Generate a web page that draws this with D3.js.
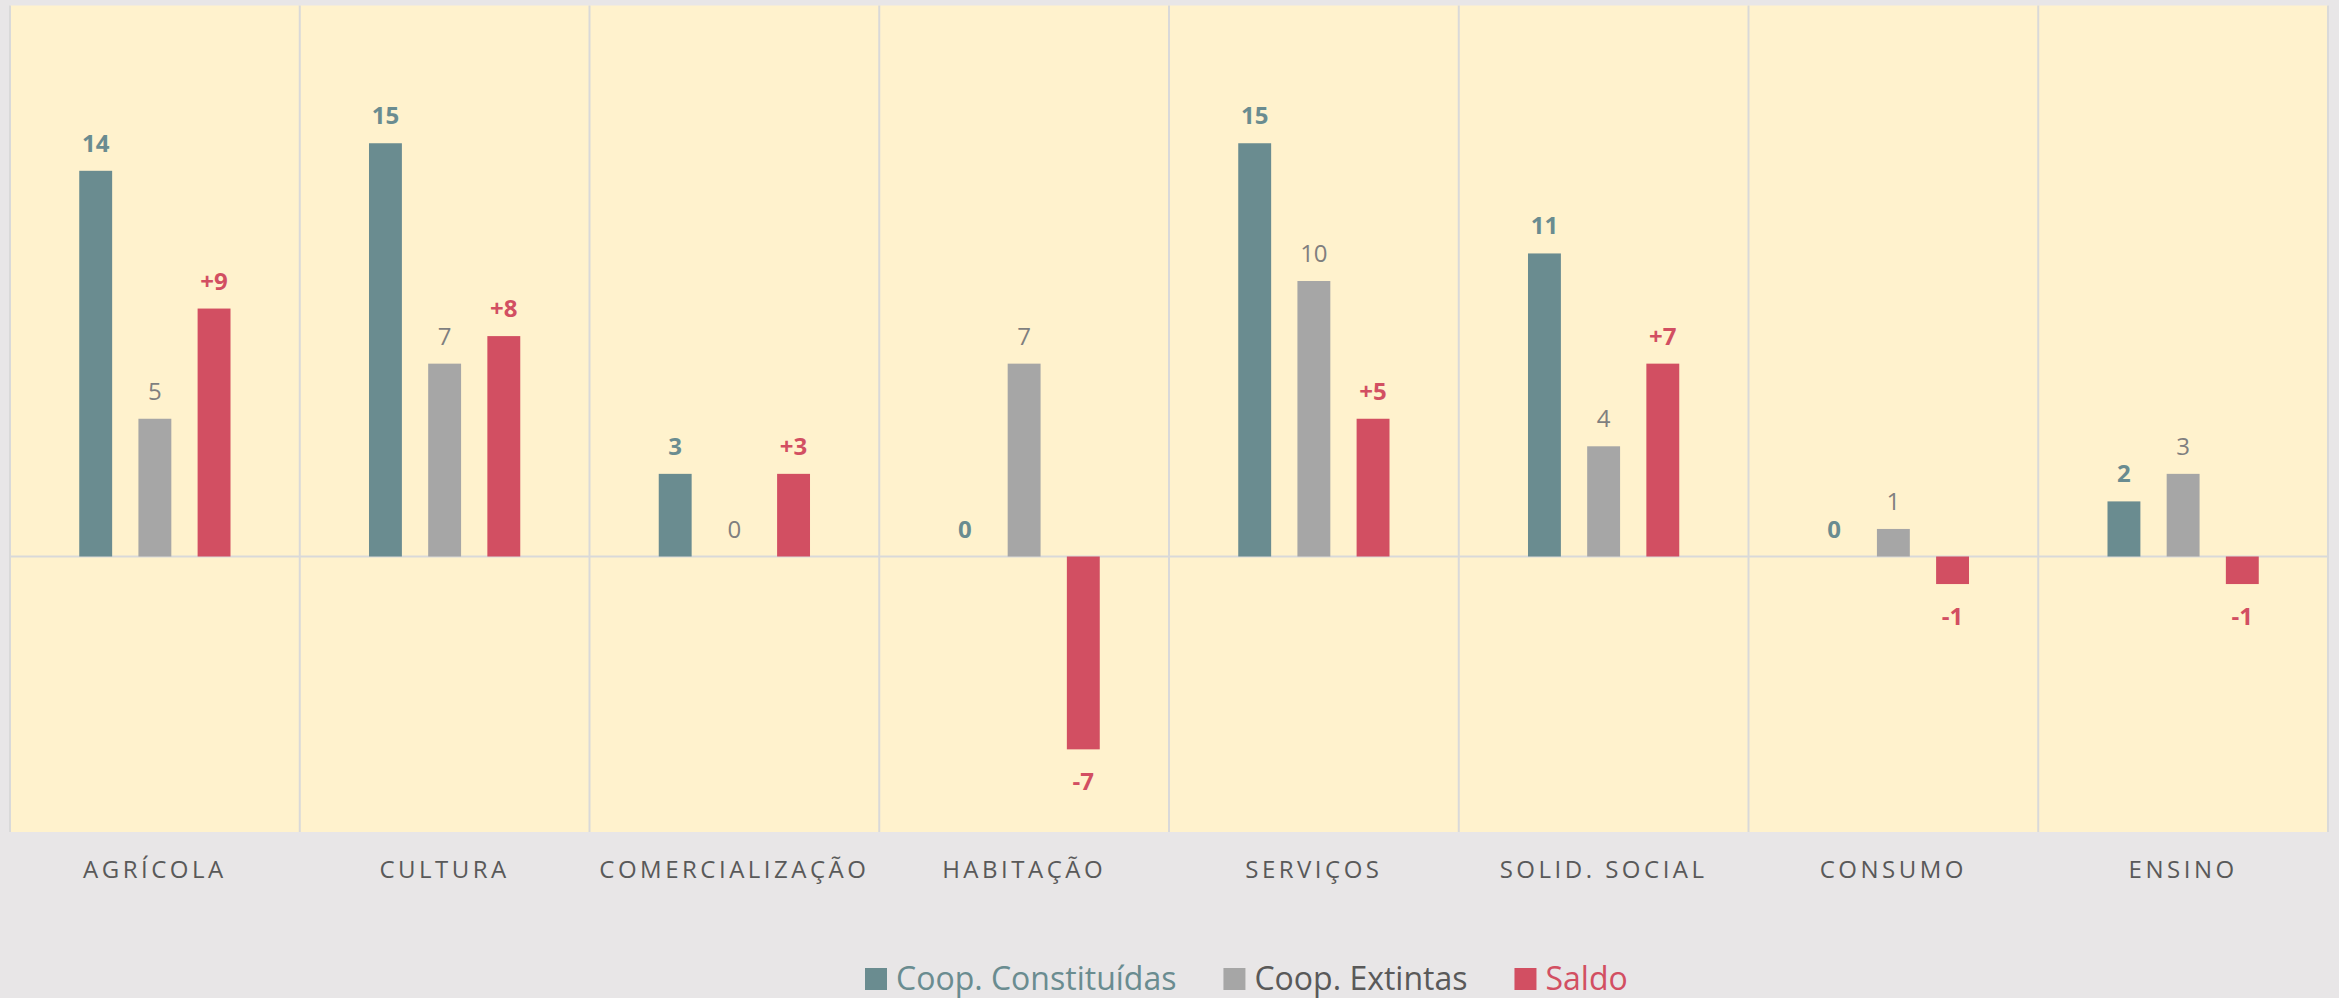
<!DOCTYPE html>
<html>
<head>
<meta charset="UTF-8">
<title>Cooperativas por ramo</title>
<style>
    html, body { margin: 0; padding: 0; background: #e8e6e7; }
    svg { display: block; }
    text { font-family: "Open Sans", "Noto Sans", sans-serif; }
</style>
<script src="https://cdnjs.cloudflare.com/ajax/libs/d3/7.8.5/d3.min.js"></script>
</head>
<body>
<svg id="chart" width="2339" height="998"></svg>
<script>
// dados
var categorias = ["AGRÍCOLA", "CULTURA", "COMERCIALIZAÇÃO", "HABITAÇÃO", "SERVIÇOS", "SOLID. SOCIAL", "CONSUMO", "ENSINO"];
var constituidas = [14, 15, 3, 0, 15, 11, 0, 2];
var extintas = [5, 7, 0, 7, 10, 4, 1, 3];
var saldo = [9, 8, 3, -7, 5, 7, -1, -1];
var series = ["Coop. Constituídas", "Coop. Extintas", "Saldo"];

var cores = { "Coop. Constituídas": "#6a8c90", "Coop. Extintas": "#a6a6a6", "Saldo": "#d24f62" };
var coresTexto = { "Coop. Constituídas": "#6a8c90", "Coop. Extintas": "#7f7f7f", "Saldo": "#d24f62" };
var coresLegenda = { "Coop. Constituídas": "#6a8c90", "Coop. Extintas": "#595959", "Saldo": "#d24f62" };

var valores = { "Coop. Constituídas": constituidas, "Coop. Extintas": extintas, "Saldo": saldo };

var svg = d3.select("#chart");
var plot = { left: 10, right: 2328, top: 5.5, bottom: 832 };

var x = d3.scaleBand().domain(categorias).range([plot.left, plot.right]).padding(0);
var xs = d3.scaleBand().domain(series).range([0, x.bandwidth()])
    .paddingInner(0.444).paddingOuter(1.17);
var y = d3.scaleLinear().domain([-10, 20]).range([plot.bottom, plot.top]);

// fundo da área do gráfico
svg.append("rect")
    .attr("x", plot.left).attr("y", plot.top)
    .attr("width", plot.right - plot.left).attr("height", plot.bottom - plot.top)
    .attr("fill", "#fff2cd");

// linhas verticais entre categorias
var divisores = d3.range(categorias.length + 1).map(function (i) {
    return i < categorias.length ? x(categorias[i]) : plot.right;
});
svg.append("g").selectAll("line")
    .data(divisores)
    .enter().append("line")
    .attr("x1", function (d) { return d; })
    .attr("x2", function (d) { return d; })
    .attr("y1", plot.top).attr("y2", plot.bottom)
    .attr("stroke", "#d9d9d9").attr("stroke-width", 2);

// linha do zero
svg.append("line")
    .attr("x1", plot.left).attr("x2", plot.right)
    .attr("y1", y(0)).attr("y2", y(0))
    .attr("stroke", "#d9d9d9").attr("stroke-width", 2);

var dados = [];
categorias.forEach(function (c, i) {
    series.forEach(function (s) {
        dados.push({ cat: c, serie: s, v: valores[s][i] });
    });
});

svg.append("g").selectAll("rect")
    .data(dados.filter(function (d) { return d.v !== 0; }))
    .enter().append("rect")
    .attr("x", function (d) { return x(d.cat) + xs(d.serie); })
    .attr("width", xs.bandwidth())
    .attr("y", function (d) { return y(Math.max(0, d.v)); })
    .attr("height", function (d) { return Math.abs(y(d.v) - y(0)); })
    .attr("fill", function (d) { return cores[d.serie]; });

// rótulos de dados
function formato(d) {
    if (d.serie === "Saldo" && d.v > 0) return "+" + d.v;
    return String(d.v);
}
svg.append("g").selectAll("text")
    .data(dados)
    .enter().append("text")
    .attr("x", function (d) { return x(d.cat) + xs(d.serie) + xs.bandwidth() / 2; })
    .attr("y", function (d) { return d.v < 0 ? y(d.v) + 41 : y(d.v) - 19; })
    .attr("text-anchor", "middle")
    .attr("font-size", 24)
    .attr("font-weight", function (d) { return d.serie === "Coop. Extintas" ? 400 : 700; })
    .attr("fill", function (d) { return coresTexto[d.serie]; })
    .text(formato);

// rótulos do eixo
svg.append("g").selectAll("text")
    .data(categorias)
    .enter().append("text")
    .attr("x", function (d) { return x(d) + x.bandwidth() / 2; })
    .attr("y", 878)
    .attr("text-anchor", "middle")
    .attr("font-size", 24)
    .attr("letter-spacing", 3.5)
    .attr("fill", "#595959")
    .text(function (d) { return d; });

// legenda
var leg = svg.append("g");
var lx = 865;
series.forEach(function (s) {
    leg.append("rect")
        .attr("x", lx).attr("y", 968).attr("width", 22).attr("height", 22)
        .attr("fill", cores[s]);
    var t = leg.append("text")
        .attr("x", lx + 31).attr("y", 990)
        .attr("font-size", 32)
        .attr("fill", coresLegenda[s])
        .text(s);
    lx = lx + 31 + t.node().getComputedTextLength() + 47;
});
</script>
</body>
</html>
